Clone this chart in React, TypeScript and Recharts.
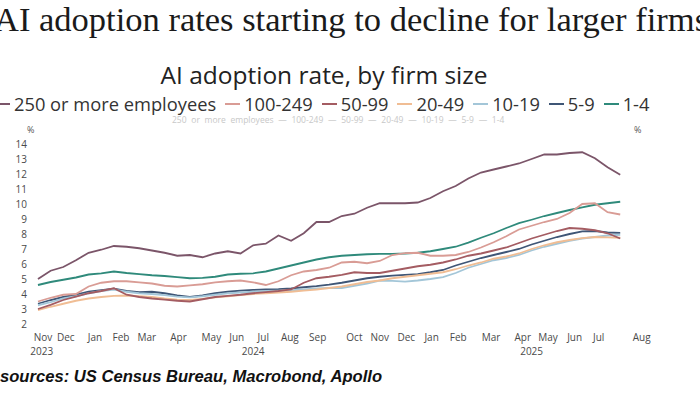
import { LineChart, Line, XAxis, YAxis } from "recharts";

// biweekly survey periods, Nov 2023 .. late Jul 2025
const emp250 = [
  5.0, 5.55, 5.8, 6.25, 6.75, 6.95, 7.2, 7.15, 7.05, 6.9, 6.75, 6.55, 6.6, 6.45, 6.7, 6.85,
  6.7, 7.25, 7.35, 7.9, 7.55, 8.05, 8.8, 8.8, 9.2, 9.35, 9.75, 10.05, 10.05, 10.05, 10.1,
  10.4, 10.85, 11.2, 11.7, 12.1, 12.3, 12.5, 12.7, 13.0, 13.3, 13.3, 13.4, 13.45, 13.05,
  12.45, 11.95,
];
const emp100 = [
  3.5, 3.75, 3.95, 4.0, 4.5, 4.75, 4.85, 4.85, 4.78, 4.7, 4.55, 4.5, 4.58, 4.65, 4.78, 4.85,
  4.9, 4.78, 4.6, 4.85, 5.25, 5.5, 5.6, 5.75, 6.1, 6.15, 6.05, 6.2, 6.6, 6.72, 6.75, 6.55,
  6.55, 6.6, 6.8, 7.1, 7.45, 7.85, 8.3, 8.55, 8.8, 9.0, 9.4, 10.0, 10.05, 9.45, 9.3,
];
const emp50 = [
  3.0, 3.27, 3.6, 3.82, 4.05, 4.2, 4.38, 3.95, 3.8, 3.7, 3.62, 3.55, 3.5, 3.65, 3.8, 3.88,
  3.95, 4.05, 4.12, 4.2, 4.3, 4.75, 5.05, 5.15, 5.27, 5.45, 5.4, 5.4, 5.55, 5.7, 5.85, 5.95,
  6.1, 6.3, 6.55, 6.7, 6.9, 7.1, 7.4, 7.7, 7.95, 8.2, 8.4, 8.35, 8.25, 8.05, 7.7,
];
const emp20 = [
  2.93, 3.15, 3.35, 3.55, 3.7, 3.8, 3.88, 3.9, 3.85, 3.8, 3.7, 3.62, 3.6, 3.68, 3.78, 3.85,
  3.92, 4.0, 4.05, 4.1, 4.15, 4.22, 4.3, 4.4, 4.5, 4.65, 4.8, 4.9, 5.05, 5.15, 5.25, 5.35,
  5.45, 5.65, 5.9, 6.1, 6.35, 6.5, 6.7, 7.0, 7.25, 7.45, 7.6, 7.72, 7.8, 7.78, 7.75,
];
const emp10 = [
  3.25, 3.45, 3.7, 3.85, 4.05, 4.2, 4.3, 4.15, 4.05, 4.0, 3.92, 3.82, 3.78, 3.85, 3.95, 4.05,
  4.1, 4.15, 4.2, 4.22, 4.25, 4.3, 4.38, 4.4, 4.4, 4.55, 4.7, 4.9, 4.88, 4.82, 4.9, 5.0,
  5.12, 5.4, 5.75, 6.0, 6.25, 6.4, 6.6, 6.9, 7.15, 7.35, 7.55, 7.7, 7.8, 7.9, 7.95,
];
const emp5 = [
  3.35, 3.6, 3.8, 3.95, 4.15, 4.25, 4.35, 4.2, 4.12, 4.15, 4.05, 3.9, 3.8, 3.9, 4.05, 4.15,
  4.22, 4.27, 4.3, 4.33, 4.38, 4.45, 4.52, 4.62, 4.75, 4.9, 5.05, 5.15, 5.22, 5.27, 5.33,
  5.45, 5.6, 5.9, 6.15, 6.4, 6.6, 6.8, 7.0, 7.3, 7.55, 7.8, 8.0, 8.17, 8.2, 8.1, 8.08,
];
const emp1 = [
  4.6, 4.8, 4.95, 5.1, 5.3, 5.38, 5.5, 5.4, 5.32, 5.25, 5.2, 5.12, 5.05, 5.08, 5.15, 5.3,
  5.35, 5.38, 5.5, 5.7, 5.9, 6.1, 6.3, 6.45, 6.55, 6.6, 6.65, 6.67, 6.68, 6.7, 6.75, 6.85,
  7.0, 7.15, 7.43, 7.75, 8.05, 8.4, 8.72, 8.95, 9.2, 9.4, 9.6, 9.78, 9.95, 10.05, 10.15,
];

// month labels sit in the middle of each month, in period units
const monthLabels = [
  "Nov", "Dec", "Jan", "Feb", "Mar", "Apr", "May", "Jun", "Jul", "Aug", "Sep",
  "Oct", "Nov", "Dec", "Jan", "Feb", "Mar", "Apr", "May", "Jun", "Jul", "Aug",
];
const monthPos = [
  0.4, 2.2, 4.5, 6.56, 8.6, 11.1, 13.7, 15.7, 17.8, 19.9, 22.1,
  25.0, 27.0, 29.1, 31.1, 33.2, 35.8, 38.3, 40.3, 42.4, 44.3, 47.7,
];
const yearLabels = ["2023", "2024", "2025"];
const yearPos = [0.3, 17.0, 39.0];
const yTicks = [2, 3, 4, 5, 6, 7, 8, 9, 10, 11, 12, 13, 14];

const series = [
  { key: "e250", name: "250 or more employees", color: "#7b5569", values: emp250 },
  { key: "e100", name: "100-249", color: "#d99c95", values: emp100 },
  { key: "e50", name: "50-99", color: "#a45c62", values: emp50 },
  { key: "e20", name: "20-49", color: "#f0bd94", values: emp20 },
  { key: "e10", name: "10-19", color: "#a3c6d8", values: emp10 },
  { key: "e5", name: "5-9", color: "#3f5676", values: emp5 },
  { key: "e1", name: "1-4", color: "#2f8a7b", values: emp1 },
];

const data = emp250.map((_, i) => {
  const row: Record<string, number> = { i };
  series.forEach((s) => (row[s.key] = s.values[i]));
  return row;
});

// tick marks at month boundaries
const boundaries = monthPos.slice(0, -1).map((p, k) => (p + monthPos[k + 1]) / 2);

const sans = "'Open Sans', 'Noto Sans', sans-serif";
const tickStyle = { fontSize: 10, fill: "#4a4a4a", fontFamily: sans };

export default function App() {
  return (
    <div
      style={{
        position: "absolute",
        left: 0,
        top: 0,
        width: 700,
        height: 394,
        overflow: "hidden",
        background: "#fff",
      }}
    >
      <div
        style={{
          position: "absolute",
          left: -6,
          top: 0,
          whiteSpace: "nowrap",
          fontFamily: "'Liberation Serif', serif",
          fontSize: 34.5,
          color: "#1a1a1a",
        }}
      >
        AI adoption rates starting to decline for larger firms
      </div>
      <div
        style={{
          position: "absolute",
          left: 0,
          width: 648,
          top: 58,
          textAlign: "center",
          fontFamily: sans,
          fontSize: 24.5,
          color: "#222",
        }}
      >
        AI adoption rate, by firm size
      </div>
      <div
        style={{
          position: "absolute",
          left: 0,
          top: 91,
          display: "flex",
          alignItems: "center",
          whiteSpace: "nowrap",
          fontFamily: sans,
          fontSize: 18.3,
          color: "#333",
        }}
      >
        {series.map((s, k) => (
          <div key={s.key} style={{ display: "flex", alignItems: "center", marginLeft: k === 0 ? -5 : 9 }}>
            <span style={{ display: "inline-block", width: 15, height: 2, background: s.color, marginRight: 4 }} />
            <span>{s.name}</span>
          </div>
        ))}
      </div>
      <div
        style={{
          position: "absolute",
          left: 172,
          top: 114,
          whiteSpace: "nowrap",
          fontFamily: sans,
          fontSize: 8.5,
          color: "#c8c8c8",
          wordSpacing: 2.5,
        }}
      >
        {series.map((s) => s.name).join("   —   ")}
      </div>
      <div style={{ position: "absolute", left: 27, top: 123, fontFamily: sans, fontSize: 9, color: "#555" }}>%</div>
      <div style={{ position: "absolute", left: 634, top: 123, fontFamily: sans, fontSize: 9, color: "#555" }}>%</div>

      <LineChart
        width={700}
        height={394}
        data={data}
        margin={{ top: 144, right: 0, left: 0, bottom: 40 }}
        style={{ position: "absolute", left: 0, top: 0 }}
      >
        <XAxis
          xAxisId="b"
          dataKey="i"
          type="number"
          domain={[-0.55, 47.8]}
          ticks={boundaries}
          tick={false}
          tickSize={3}
          height={0}
          stroke="#9a9a9a"
          allowDataOverflow
        />
        <XAxis
          xAxisId="m"
          dataKey="i"
          type="number"
          domain={[-0.55, 47.8]}
          ticks={monthPos}
          tickFormatter={(v: number) => monthLabels[monthPos.indexOf(v)]}
          interval={0}
          axisLine={false}
          tickLine={false}
          tickSize={0}
          tickMargin={10}
          tick={tickStyle}
          height={14}
          allowDataOverflow
        />
        <XAxis
          xAxisId="y"
          dataKey="i"
          type="number"
          domain={[-0.55, 47.8]}
          ticks={yearPos}
          tickFormatter={(v: number) => yearLabels[yearPos.indexOf(v)]}
          interval={0}
          axisLine={false}
          tickLine={false}
          tickSize={0}
          tickMargin={10}
          tick={tickStyle}
          height={16}
          allowDataOverflow
        />
        <YAxis
          yAxisId="l"
          orientation="left"
          domain={[2, 14]}
          ticks={yTicks}
          interval={0}
          width={31}
          axisLine={false}
          tickLine={false}
          tickSize={0}
          tickMargin={4}
          tick={tickStyle}
        />
        <YAxis
          yAxisId="r"
          orientation="right"
          domain={[2, 14]}
          ticks={yTicks}
          interval={0}
          width={57}
          axisLine={false}
          tickLine={false}
          tickSize={0}
          tickMargin={2}
          tick={tickStyle}
        />
        {[...series].reverse().map((s) => (
          <Line
            key={s.key}
            xAxisId="m"
            yAxisId="l"
            dataKey={s.key}
            name={s.name}
            stroke={s.color}
            strokeWidth={1.8}
            dot={false}
            type="linear"
            isAnimationActive={false}
          />
        ))}
      </LineChart>

      <div
        style={{
          position: "absolute",
          left: 0,
          top: 367,
          whiteSpace: "nowrap",
          fontFamily: "'Liberation Sans', sans-serif",
          fontWeight: "bold",
          fontStyle: "italic",
          fontSize: 16.6,
          color: "#111",
        }}
      >
        sources: US Census Bureau, Macrobond, Apollo
      </div>
    </div>
  );
}
